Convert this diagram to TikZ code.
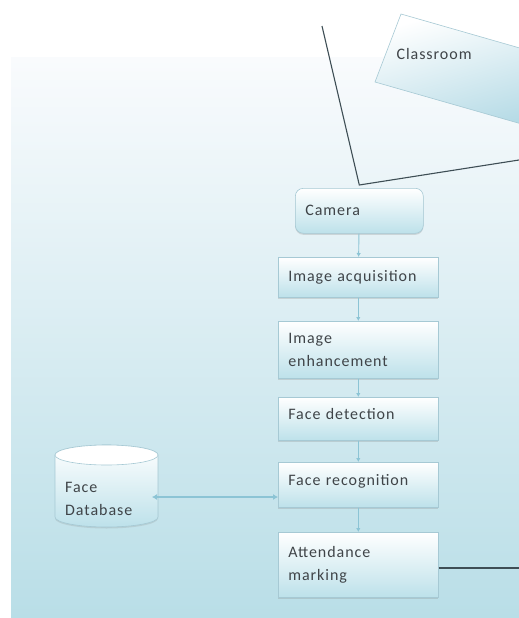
\documentclass[tikz,border=0pt]{standalone}
\usepackage{fontspec}
\setmainfont{Carlito}
\usetikzlibrary{arrows.meta,shadows}
\definecolor{txt}{HTML}{3F4448}
\definecolor{bgtop}{HTML}{F9FBFD}
\definecolor{bgmid}{HTML}{D9EDF2}
\definecolor{bgbot}{HTML}{B9DEE7}
\definecolor{boxbot}{HTML}{BDE1EA}
\definecolor{boxedge}{HTML}{A6C9D4}
\definecolor{arrc}{HTML}{8CC4D5}
\definecolor{darkline}{HTML}{3E4E55}
\definecolor{roombot}{HTML}{AAD5E2}
\begin{document}
\begin{tikzpicture}[x=1pt,y=-1pt,
  every node/.style={font=\fontsize{16}{23}\selectfont\addfontfeature{LetterSpace=6}, text=txt},
  stepbox/.style={draw=boxedge, line width=0.6pt, top color=white, bottom color=boxbot,
    anchor=north west, minimum width=160pt, text width=140pt, align=left,
    inner xsep=9pt, inner ysep=0pt,
    drop shadow={opacity=0.25, shadow xshift=0pt, shadow yshift=-1.5pt}},
  flow/.style={draw=arrc, line width=0.9pt, -{Latex[length=4pt,width=4.5pt]}},
  viewline/.style={draw=darkline, line width=1.1pt},
]
\useasboundingbox (0,0) rectangle (519,618);
\clip (0,0) rectangle (519,618);
\fill[white] (0,0) rectangle (519,618);
\shade[top color=bgtop, middle color=bgmid, bottom color=bgbot] (11,58) rectangle (519,618);

% classroom
\shade[top color=white, bottom color=roombot, shading angle=16, draw=boxedge, line width=0.6pt]
  (401,14) -- (593,69) -- (567,137) -- (375,82) -- cycle;
\node[anchor=west] (room) at (393,54) {Classroom};

% boxes
\node[stepbox, rounded corners=8pt, minimum width=128pt, minimum height=45pt, text width=108pt] (cam) at (295,188) {Camera};
\node[stepbox, minimum height=40pt] (acq) at (278,257) {Image acquisition};
\node[stepbox, minimum height=57pt] (enh) at (278,321) {Image\\enhancement};
\node[stepbox, minimum height=43pt, text depth=9pt] (det) at (278,397) {Face detection};
\node[stepbox, minimum height=45pt, text depth=10pt] (rec) at (278,462) {Face recognition};
\node[stepbox, minimum height=65pt] (att) at (278,532) {Attendance\\marking};

% database cylinder
\shade[top color=white, bottom color=boxbot, draw=boxedge, line width=0.6pt,
  drop shadow={opacity=0.2, shadow xshift=0pt, shadow yshift=-1.5pt}]
  (55,455) -- (55,517) arc[start angle=180, end angle=0, x radius=51.5, y radius=10]
  -- (158,455) arc[start angle=0, end angle=-180, x radius=51.5, y radius=10] -- cycle;
\fill[white, draw=boxedge, line width=0.6pt] (106.5,455) ellipse[x radius=51.5, y radius=10];
\node[anchor=north west, align=left, inner sep=0pt] (db) at (65,482) {Face\\Database};

% view lines
\coordinate (viewtop) at (322,26);
\coordinate (viewR) at (519,160);
\draw[viewline] (viewtop) -- ([yshift=3pt]cam.north) -- (viewR);

% flow arrows
\draw[flow] (cam) -- (acq);
\draw[flow] (acq) -- (enh);
\draw[flow] (enh) -- (det);
\draw[flow] (det) -- (rec);
\draw[flow] (rec) -- (att);

% database link
\coordinate (dbport) at (152,497);
\draw[draw=arrc, line width=1.2pt, {Latex[length=5pt,width=6pt]}-{Latex[length=5pt,width=6pt]}] (dbport) -- (rec.west |- dbport);

% output line
\coordinate (outR) at (519,568);
\draw[viewline] (att.east |- outR) -- (outR);
\end{tikzpicture}
\end{document}
